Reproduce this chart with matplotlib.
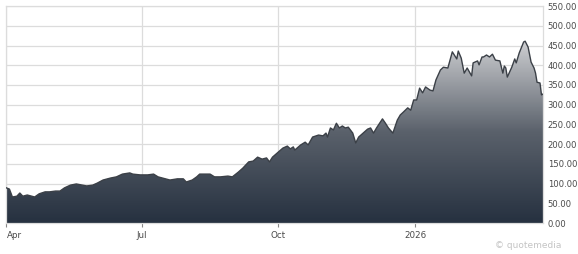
import numpy as np
import matplotlib
matplotlib.use("Agg")
import matplotlib.pyplot as plt
import matplotlib.dates as mdates
from matplotlib.colors import LinearSegmentedColormap

# days since 2025-04-01, closing price
days = [0, 2, 4, 7, 9, 11, 14, 17, 19, 22, 26, 29, 33, 36, 39, 43, 47, 51, 54, 58,
        61, 65, 70, 74, 78, 83, 85, 90, 95, 99, 102, 105, 110, 115, 119, 121, 125, 128, 130, 137,
        140, 144, 149, 152, 156, 159, 163, 166, 169, 172, 175, 177, 179, 183, 186, 189, 191, 193, 194, 198,
        201, 203, 206, 210, 213, 215, 216, 218, 220, 222, 224, 226, 228, 230, 233, 235, 237, 240, 243, 245,
        247, 249, 253, 255, 257, 260, 263, 265, 267, 270, 272, 274, 276, 278, 280, 282, 285, 287, 289, 292,
        294, 297, 299, 300, 303, 304, 306, 308, 310, 313, 314, 317, 318, 320, 321, 323, 325, 327, 329, 332,
        334, 335, 336, 337, 340, 342, 343, 345, 348, 349, 351, 353, 355, 356, 357, 359, 360, 361]
prices = [89, 86, 66, 68, 76, 68, 71, 68, 66, 74, 79, 79, 81, 81, 89, 96, 99, 96, 94, 96,
          101, 109, 114, 117, 124, 127, 124, 122, 122, 124, 117, 114, 109, 112, 112, 104, 109, 117, 124, 124,
          117, 117, 119, 117, 129, 139, 155, 157, 167, 162, 165, 155, 167, 180, 190, 195, 188, 193, 185, 198,
          205, 198, 218, 223, 221, 228, 218, 241, 236, 253, 241, 246, 241, 243, 228, 203, 218, 228, 238, 241,
          228, 241, 264, 253, 241, 228, 261, 274, 281, 292, 286, 312, 312, 342, 330, 345, 337, 335, 363, 388,
          395, 393, 421, 434, 416, 436, 418, 380, 393, 373, 406, 411, 401, 421, 421, 426, 421, 428, 413, 411,
          380, 398, 393, 370, 395, 416, 406, 431, 459, 461, 446, 408, 393, 380, 357, 355, 325, 327]

tick_dates = ["2025-04-01", "2025-07-01", "2025-10-01", "2026-01-01"]
tick_labels = ["Apr", "Jul", "Oct", "2026"]
y_ticks = np.arange(0, 551, 50)

start = np.datetime64("2025-04-01")
dates = start + np.array(days).astype("timedelta64[D]")
x = mdates.date2num(dates.astype("datetime64[D]").astype(object))
y = np.array(prices, dtype=float)

fig = plt.figure(figsize=(5.78, 2.54), dpi=100)
ax = fig.add_axes([0.0104, 0.122, 0.929, 0.854])

ymax = 550
ax.set_xlim(x[0] - 0.3, x[-1])
ax.set_ylim(0, ymax)

# gradient fill under the line
cmap = LinearSegmentedColormap.from_list("qm", ["#263140", "#5a616b", "#cdced1"])
grad = np.linspace(0, 1, 256).reshape(-1, 1) * (ymax / y.max())
im = ax.imshow(grad, cmap=cmap, vmin=0, vmax=1, aspect="auto", origin="lower",
               extent=[x[0], x[-1], 0, ymax], zorder=2)
clip = plt.Polygon(np.column_stack([np.r_[x, x[-1], x[0]], np.r_[y, 0, 0]]),
                   closed=True, transform=ax.transData, facecolor="none", edgecolor="none")
ax.add_patch(clip)
im.set_clip_path(clip)
ax.plot(x, y, color="#3b4047", lw=1.0, zorder=3)

ax.set_yticks(y_ticks)
ax.set_yticklabels(["%.2f" % v for v in y_ticks])
ax.yaxis.tick_right()
ax.tick_params(axis="y", length=0, pad=3.5, labelsize=6.1, labelcolor="#4a4a4a")

tx = mdates.date2num(np.array(tick_dates, dtype="datetime64[D]").astype(object))
ax.set_xticks(tx)
ax.set_xticklabels(tick_labels)
ax.tick_params(axis="x", length=3, width=0.8, color="#888888", pad=3,
               labelsize=6.3, labelcolor="#4a4a4a")
ax.xaxis.get_majorticklabels()[0].set_horizontalalignment("left")
ax.xaxis.get_majorticklabels()[0].set_x(tx[0] - 3)

ax.grid(True, color="#dcdcdc", lw=0.9, zorder=0)
ax.set_axisbelow(True)
for s in ax.spines.values():
    s.set_color("#dcdcdc")
    s.set_linewidth(0.9)

fig.text(0.972, 0.035, "\u00a9 quotemedia", ha="right", va="center",
         fontsize=6.5, color="#c4c4c4")

plt.savefig("out.png", dpi=100)
